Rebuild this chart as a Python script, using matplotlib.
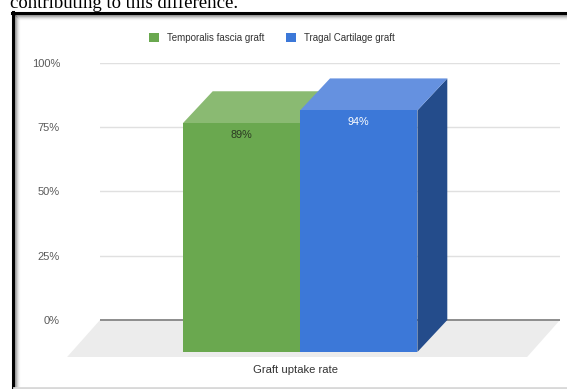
import matplotlib.pyplot as plt
from matplotlib.patches import Polygon, Patch

# data
series = ['Temporalis fascia graft', 'Tragal Cartilage graft']
values = [89, 94]
value_labels = ['89%', '94%']
category = 'Graft uptake rate'
yticks = [0, 25, 50, 75, 100]
ytick_labels = ['0%', '25%', '50%', '75%', '100%']

front_colors = ['#6aa84f', '#3c78d8']
top_colors = ['#8aba72', '#6591e0']
side_colors = ['#4f7e3b', '#244c8b']
label_colors = ['#2b3a22', '#ffffff']

W, H = 567, 389
plt.rcParams['font.family'] = ['Liberation Sans', 'DejaVu Sans']
fig = plt.figure(figsize=(W / 100, H / 100), dpi=100)


def fx(px):
    return px / W


def fy(py):
    return 1 - py / H


# background layer in pixel units: page text and chart frame
bg = fig.add_axes([0, 0, 1, 1], zorder=0)
bg.set_xlim(0, W)
bg.set_ylim(H, 0)
bg.axis('off')
bg.text(10, 8, 'contributing to this difference.', family='Liberation Serif',
        fontsize=13.5, va='baseline', ha='left', color='black')
# shadow inside the frame
for i, a in enumerate([0.35, 0.22, 0.13, 0.07, 0.03]):
    bg.plot([15 + i, 15 + i], [15 + i, H], color='black', alpha=a, lw=1)
    bg.plot([15 + i, W], [15 + i, 15 + i], color='black', alpha=a, lw=1)
bg.plot([13, 13], [12, H], color='black', lw=2.2)
bg.plot([12, W], [13, 13], color='black', lw=2.2)
bg.plot([14, W], [388, 388], color='#d8d8d8', lw=2)

# chart axes: back wall spans 0..100, floor reaches below 0
floor_depth = -14.4
bar_dx, bar_dy = -0.13, -12.45
floor_dx = -0.143
ax = fig.add_axes([fx(100), fy(357), fx(560) - fx(100), fy(63) - fy(357)], zorder=1)
ax.set_xlim(-1, 1)
ax.set_ylim(floor_depth, 100)
ax.patch.set_alpha(0)
for s in ax.spines.values():
    s.set_visible(False)
ax.set_xticks([])
ax.set_yticks(yticks)
ax.set_yticklabels(ytick_labels, fontsize=8, color='#5a5a5a')
ax.tick_params(axis='y', length=0, pad=28.8)

for t in yticks[1:]:
    ax.plot([-1, 1], [t, t], color='#e0e0e0', lw=1, zorder=1)

# floor
ax.add_patch(Polygon([(-1, 0), (1, 0), (1 + floor_dx, floor_depth), (-1 + floor_dx, floor_depth)],
                     closed=True, facecolor='#ececec', edgecolor='none', zorder=1, clip_on=False))
ax.plot([-1, 1], [0, 0], color='#858585', lw=1.3, zorder=2)

# bars
bar_w = 0.51
x_lefts = [-bar_w + i * bar_w for i in range(len(values))]
for i, v in enumerate(values):
    x0 = x_lefts[i]
    x1 = x0 + bar_w
    front = [(x0 + bar_dx, bar_dy), (x1 + bar_dx, bar_dy), (x1 + bar_dx, v + bar_dy), (x0 + bar_dx, v + bar_dy)]
    top = [(x0 + bar_dx, v + bar_dy), (x1 + bar_dx, v + bar_dy), (x1, v), (x0, v)]
    side = [(x1 + bar_dx, bar_dy), (x1, 0), (x1, v), (x1 + bar_dx, v + bar_dy)]
    ax.add_patch(Polygon(side, closed=True, facecolor=side_colors[i], edgecolor='none', zorder=3 + i))
    ax.add_patch(Polygon(top, closed=True, facecolor=top_colors[i], edgecolor='none', zorder=3 + i))
    ax.add_patch(Polygon(front, closed=True, facecolor=front_colors[i], edgecolor='none', zorder=3 + i))
    ax.annotate(value_labels[i], xy=((x0 + x1) / 2 + bar_dx, v + bar_dy), xytext=(0, -8.3),
                textcoords='offset points', ha='center', va='center', fontsize=7.8,
                color=label_colors[i], zorder=10)

# category label under the floor
ax.annotate(category, xy=(bar_dx - 0.02, floor_depth), xytext=(0, -5.5), textcoords='offset points',
            ha='center', va='top', fontsize=8.1, color='#333333', annotation_clip=False)

handles = [Patch(facecolor=c, edgecolor='none') for c in front_colors]
fig.legend(handles, series, loc='center', bbox_to_anchor=(fx(272), fy(38)), ncol=2, frameon=False,
           fontsize=7, handlelength=1.03, handleheight=1.0, handletextpad=0.82,
           columnspacing=2.2, labelcolor='#333333')

fig.savefig('out.png', dpi=100)
